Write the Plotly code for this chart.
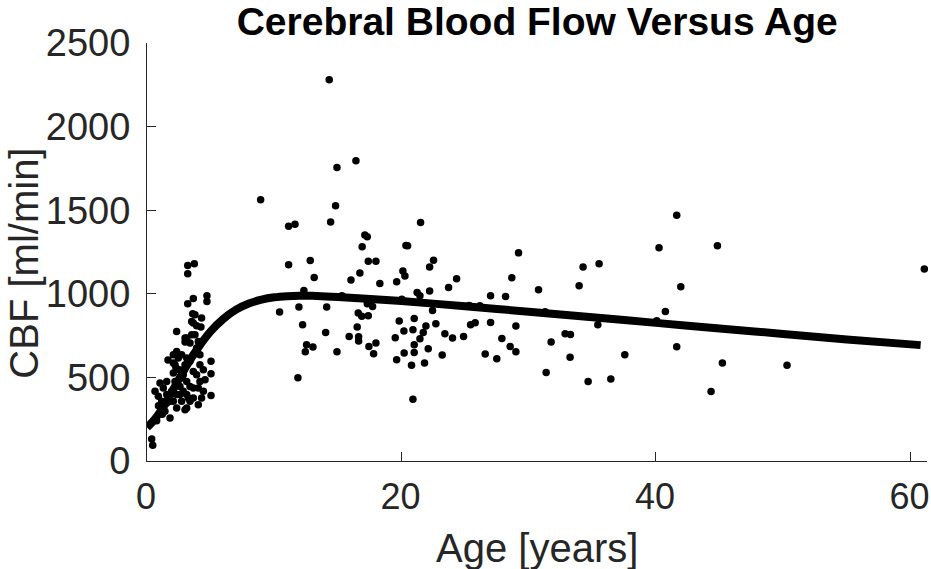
import plotly.graph_objects as go

# Measured data: age [years] and CBF [ml/min]
age_young = [3.2, 3.72, 3.2, 4.71, 4.71, 3.64, 3.2, 3.59, 3.64, 3.9, 4.24, 2.33, 3.12, 2.99, 3.51,
             2.33, 1.65, 5.03, 5.03, 5.03, 2.07, 2.28, 0.37, 0.45,
             2.54, 2.85, 2.2, 2.59, 1.94, 2.33, 2.85, 3.12, 2.72, 1.02, 0.63, 0.89, 1.15, 1.55, 1.81,
             1.41, 1.81, 3.64, 3.9, 4.16, 4.03, 4.43, 4.29, 4.03, 3.64, 3.38, 3.12, 2.99, 3.25,
             2.07, 2.46, 2.72, 3.12, 2.2, 2.99, 3.38, 3.64, 3.9, 4.16, 4.16, 2.72, 3.12, 3.38, 2.07,
             1.55, 1.28, 2.59, 2.07, 2.33, 1.55, 4.43, 4.56, 3.64, 3.77, 4.03, 3.38, 2.99, 4.29, 3.51,
             3.77, 0.76, 1.2, 0.9]
cbf_young = [1169, 1179, 1120, 988, 954, 972, 940, 880, 825, 809, 801, 775, 735, 712, 755,
             655, 604, 596, 522, 391, 586, 556, 132, 94,
             546, 516, 476, 446, 417, 397, 417, 397, 357, 466, 417, 387, 357, 397, 357,
             297, 257, 536, 516, 476, 437, 417, 377, 337, 377, 357, 317, 307, 377,
             636, 616, 636, 616, 576, 576, 596, 636, 676, 636, 576, 496, 476, 446, 526,
             476, 437, 397, 357, 317, 347, 546, 486, 437, 755, 715, 706, 735, 855, 835,
             875, 240, 280, 330]

age_older = [14.32, 16.42, 14.93, 8.93, 14.82, 11.13, 11.63, 14.43, 17.12, 17.31, 16.91, 17.39,
             11.13, 12.83, 16.73, 16.03, 13.14, 12.33, 15.32, 10.42, 11.94, 14.12, 17.31, 12.23,
             14.04, 16.6, 16.88, 17.39, 16.52, 15.89, 16.63, 16.63, 12.54, 13.04, 12.44, 14.93,
             17.44, 11.86,
             21.5, 20.35, 20.48, 17.99, 22.52, 22.21, 20.11, 20.27, 18.3, 19.62, 24.33, 23.7,
             21.23, 21.45, 22.21, 20.03, 22.44, 25.32, 17.73, 19.82, 21.0, 22.7, 21.92, 20.19,
             20.9, 21.71, 23.41, 24.01, 24.88, 25.43, 25.79, 19.51, 21.45, 21.0, 22.1, 17.99,
             17.81, 20.21, 21.0, 23.2, 19.62, 20.79, 21.81, 20.9,
             29.2, 28.67, 34.27, 35.53, 33.96, 30.77, 27.0, 28.18, 26.16, 31.29, 27.0, 28.99,
             35.43, 27.89, 32.86, 33.28, 31.76, 28.54, 28.99, 26.58, 27.49, 33.25, 31.37, 34.67,
             41.63, 40.24, 44.83, 61.09, 41.95, 40.74, 40.06, 41.63, 37.55, 45.22, 50.3, 36.45,
             44.33]
cbf_older = [2280, 1796, 1755, 1562, 1526, 1404, 1416, 1430, 1352, 1341, 1281, 1195,
             1173, 1199, 1125, 1082, 1097, 1020, 988, 891, 921, 921, 940, 815,
             769, 885, 865, 869, 801, 745, 743, 717, 695, 682, 654, 654,
             685, 498,
             1426, 1289, 1287, 1195, 1201, 1161, 1136, 1106, 1062, 1072, 1090, 1038,
             1008, 988, 1016, 968, 900, 930, 924, 837, 853, 821, 807, 777,
             785, 769, 761, 735, 745, 815, 827, 737, 731, 695, 671, 705,
             642, 646, 649, 634, 606, 572, 586, 369,
             1245, 1096, 1160, 1179, 1048, 1024, 988, 984, 928, 893, 829, 807,
             815, 733, 761, 757, 711, 685, 654, 640, 612, 620, 530, 476,
             1470, 1275, 1287, 1148, 1042, 894, 839, 683, 636, 586, 572, 490,
             416]

# Fitted curve
fit_age = [0, 0.5, 1, 1.5, 2, 3, 4, 5, 6, 7, 8, 9, 10, 11, 12, 13, 15, 20, 25, 30, 35, 40,
           45, 50, 55, 60.8]
fit_cbf = [200, 240, 290, 350, 420, 555, 675, 775, 850, 905, 942, 965, 979, 986, 989, 988,
           981, 957, 925, 893, 860, 826, 793, 760, 727, 693]

x_ticks = [0, 20, 40, 60]
y_ticks = [0, 500, 1000, 1500, 2000, 2500]

FONT = "Liberation Sans, Arial, Helvetica, sans-serif"
AXC = "#262626"

fig = go.Figure()
fig.add_trace(go.Scatter(x=age_young + age_older, y=cbf_young + cbf_older, mode="markers",
                         marker=dict(color="black", size=7.5, line=dict(width=0)),
                         showlegend=False, hoverinfo="skip", cliponaxis=False))
fig.add_trace(go.Scatter(x=fit_age, y=fit_cbf, mode="lines",
                         line=dict(color="black", width=8, shape="spline", smoothing=0.6),
                         showlegend=False, hoverinfo="skip"))

fig.update_layout(
    width=931, height=569,
    margin=dict(l=147, r=4, t=43, b=108, pad=0, autoexpand=False),
    paper_bgcolor="white", plot_bgcolor="white",
    font=dict(family=FONT, color=AXC),
    title=dict(text="<b>Cerebral Blood Flow Versus Age</b>", x=0.577, xanchor="center",
               y=0.962, yanchor="middle", font=dict(size=39, color="black", family=FONT),
               automargin=False),
    xaxis=dict(range=[0, 61.3], tickvals=x_ticks, ticks="inside", ticklen=9, tickwidth=1,
               tickcolor=AXC, showline=True, linecolor=AXC, linewidth=1, mirror=False,
               showgrid=False, zeroline=False, tickfont=dict(size=36, color=AXC),
               ticklabelstandoff=4, ticklabelshift=-1, automargin=False,
               ticklabeloverflow="allow"),
    yaxis=dict(range=[0, 2500], tickvals=y_ticks, ticks="inside", ticklen=9, tickwidth=1,
               tickcolor=AXC, showline=True, linecolor=AXC, linewidth=1, mirror=False,
               showgrid=False, zeroline=False, tickfont=dict(size=38, color=AXC),
               ticklabelstandoff=8, automargin=False, ticklabeloverflow="allow"),
    annotations=[
        dict(text="Age [years]", xref="paper", yref="paper", x=0.5, y=-0.207,
             xanchor="center", yanchor="middle", showarrow=False,
             font=dict(size=40, color=AXC, family=FONT)),
        dict(text="CBF [ml/min]", xref="paper", yref="paper", x=-0.158, y=0.474,
             xanchor="center", yanchor="middle", textangle=-90, showarrow=False,
             font=dict(size=40, color=AXC, family=FONT)),
    ],
)

fig.write_html("out.html", config={"displayModeBar": False},
               post_script="document.body.style.margin='0';document.body.style.overflow='hidden';")
